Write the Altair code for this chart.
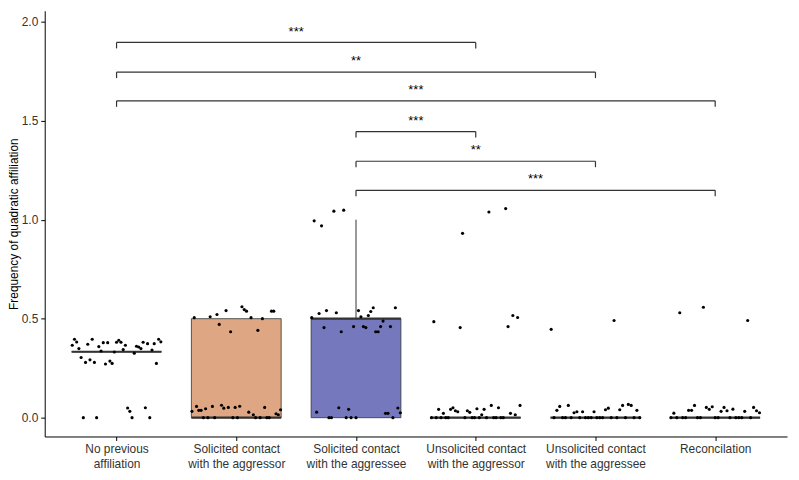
import altair as alt
import pandas as pd

# ---------------- data ----------------
categories = [
    "No previous affiliation",
    "Solicited contact with the aggressor",
    "Solicited contact with the aggressee",
    "Unsolicited contact with the aggressor",
    "Unsolicited contact with the aggressee",
    "Reconcilation",
]
label_lines = [
    ["No previous", "affiliation"],
    ["Solicited contact", "with the aggressor"],
    ["Solicited contact", "with the aggressee"],
    ["Unsolicited contact", "with the aggressor"],
    ["Unsolicited contact", "with the aggressee"],
    ["Reconcilation"],
]

# observed (jittered) values, listed left to right inside each group
g1 = [0.366, 0.396, 0.382, 0.349, 0.304, 0.0, 0.279, 0.371, 0.292, 0.396, 0.279, 0.0,
      0.359, 0.337, 0.379, 0.271, 0.379, 0.286, 0.274, 0.332, 0.381, 0.391, 0.381, 0.344,
      0.366, 0.049, 0.032, 0.0, 0.326, 0.361, 0.357, 0.349, 0.381, 0.05, 0.374, 0.0,
      0.342, 0.374, 0.274, 0.396, 0.383]
g2 = [0.032, 0.505, 0.057, 0.037, 0.037, 0.0, 0.045, 0.0, 0.51, 0.057, 0.0, 0.521,
      0.471, 0.063, 0.048, 0.541, 0.052, 0.434, 0.0, 0.052, 0.0, 0.058, 0.56, 0.546,
      0.538, 0.028, 0.505, 0.015, 0.0, 0.441, 0.0, 0.5, 0.052, 0.0, 0.0, 0.538, 0.538,
      0.02, 0.015, 0.04]
g3 = [0.505, 0.994, 0.028, 0.526, 0.969, 0.455, 0.541, 0.0, 0.0, 1.043, 0.53, 0.05,
      0.434, 1.048, 0.0, 0.042, 0.0, 0.46, 0.0, 0.541, 0.51, 0.46, 0.455, 0.516, 0.536,
      0.555, 0.434, 0.434, 0.46, 0.488, 0.022, 0.022, 0.46, 0.0, 0.555, 0.049, 0.025]
g4 = [0.0, 0.485, 0.0, 0.042, 0.0, 0.022, 0.0, 0.0, 0.042, 0.05, 0.035, 0.03, 0.455,
      0.931, 0.0, 0.035, 0.027, 0.0, 0.0, 0.045, 0.0, 0.015, 0.042, 0.0, 1.039, 0.062,
      0.0, 0.0, 0.05, 0.0, 0.0, 1.056, 0.46, 0.022, 0.516, 0.015, 0.506, 0.062]
g5 = [0.446, 0.0, 0.037, 0.057, 0.0, 0.0, 0.062, 0.0, 0.025, 0.03, 0.0, 0.03, 0.0, 0.0,
      0.0, 0.03, 0.0, 0.0, 0.0, 0.04, 0.048, 0.0, 0.491, 0.0, 0.04, 0.062, 0.0, 0.067,
      0.062, 0.0, 0.037, 0.0]
g6 = [0.0, 0.023, 0.0, 0.53, 0.0, 0.0, 0.037, 0.037, 0.062, 0.0, 0.0, 0.558, 0.052,
      0.042, 0.055, 0.0, 0.0, 0.032, 0.052, 0.035, 0.0, 0.043, 0.0, 0.0, 0.0, 0.032,
      0.491, 0.0, 0.052, 0.035, 0.025]
groups = [g1, g2, g3, g4, g5, g6]

# box-plot summaries
box_lower = [0.333, 0.0, 0.0, 0.0, 0.0, 0.0]
box_q1 = [0.333, 0.0, 0.0, 0.0, 0.0, 0.0]
box_median = [0.333, 0.0, 0.5, 0.0, 0.0, 0.0]
box_q3 = [0.333, 0.5, 0.5, 0.0, 0.0, 0.0]
box_upper = [0.333, 0.5, 1.0, 0.0, 0.0, 0.0]
box_fill = ["#FFFFFF", "#DEA683", "#7678BD", "#FFFFFF", "#FFFFFF", "#FFFFFF"]

# significance brackets
br_from = [1, 1, 1, 3, 3, 3]
br_to = [4, 5, 6, 4, 5, 6]
br_level = [1.895, 1.745, 1.6, 1.445, 1.295, 1.148]
br_label = ["***", "**", "***", "***", "**", "***"]

# ---------------- tables ----------------
HALF = 0.375  # half box width in category units
JIT = 0.37

pts_rows = []
for i, vals in enumerate(groups, start=1):
    n = len(vals)
    for k, v in enumerate(vals):
        pts_rows.append({"xj": i - JIT + 2 * JIT * k / (n - 1), "v": v})
pts = pd.DataFrame(pts_rows)

box = pd.DataFrame({
    "i": list(range(1, 7)),
    "lo": box_lower, "q1": box_q1, "med": box_median, "q3": box_q3, "hi": box_upper,
    "fill": box_fill,
})
box["xl"] = box["i"] - HALF
box["xr"] = box["i"] + HALF

br = pd.DataFrame({"a": br_from, "b": br_to, "y": br_level, "lab": br_label})
br["mid"] = (br["a"] + br["b"]) / 2
br["ytick"] = br["y"] - 0.03
br["ylab"] = br["y"] + 0.055

# ---------------- scales / axes ----------------
FONT = "Liberation Sans"
xsc = alt.Scale(domain=[0.4, 6.6], nice=False, zero=False)
ysc = alt.Scale(domain=[-0.095, 2.055], nice=False, zero=False)

lab_js = "[" + ",".join("[" + ",".join("'" + s + "'" for s in ln) + "]" for ln in label_lines) + "]"
xax = alt.Axis(values=[1, 2, 3, 4, 5, 6], labelExpr=lab_js + "[datum.value-1]", title=None,
               grid=False, tickSize=4, labelPadding=3, labelLineHeight=15,
               labelFont=FONT, labelFontSize=12, labelColor="#333333",
               domainColor="#000000", tickColor="#000000", labelOverlap=False)
yax = alt.Axis(values=[0, 0.5, 1, 1.5, 2], format=".1f", title="Frequency of quadratic affiliation",
               grid=False, tickSize=4, labelPadding=3, labelFont=FONT, labelFontSize=12,
               labelColor="#333333", domainColor="#000000", tickColor="#000000",
               titleFont=FONT, titleFontSize=12, titleFontWeight="normal", titleColor="#000000",
               titlePadding=1)


def X(f):
    return alt.X(f, type="quantitative", scale=xsc, axis=xax)


def Y(f):
    return alt.Y(f, type="quantitative", scale=ysc, axis=yax)


boxes = alt.Chart(box).mark_rect(stroke="#333333", strokeWidth=0.8).encode(
    x=X("xl"), x2="xr", y=Y("q1"), y2="q3", fill=alt.Fill("fill:N", scale=None)
)
whisk_hi = alt.Chart(box).mark_rule(color="#333333", strokeWidth=1).encode(
    x=X("i"), y=Y("q3"), y2="hi"
)
whisk_lo = alt.Chart(box).mark_rule(color="#333333", strokeWidth=1).encode(
    x=X("i"), y=Y("lo"), y2="q1"
)
medians = alt.Chart(box).mark_rule(color="#333333", strokeWidth=2.2).encode(
    x=X("xl"), x2="xr", y=Y("med")
)
points = alt.Chart(pts).mark_circle(size=10, color="#000000", opacity=1).encode(
    x=X("xj"), y=Y("v")
)
br_h = alt.Chart(br).mark_rule(color="#333333", strokeWidth=1.2).encode(
    x=X("a"), x2="b", y=Y("y")
)
br_l = alt.Chart(br).mark_rule(color="#333333", strokeWidth=1.2).encode(
    x=X("a"), y=Y("y"), y2="ytick"
)
br_r = alt.Chart(br).mark_rule(color="#333333", strokeWidth=1.2).encode(
    x=X("b"), y=Y("y"), y2="ytick"
)
br_t = alt.Chart(br).mark_text(font=FONT, fontSize=13, color="#000000", baseline="middle").encode(
    x=X("mid"), y=Y("ylab"), text="lab:N"
)

chart = alt.layer(boxes, whisk_hi, whisk_lo, medians, points, br_h, br_l, br_r, br_t).properties(
    width=748, height=429,
    autosize=alt.AutoSizeParams(type="none"),
    padding={"left": 37, "top": 1, "right": 4, "bottom": 36},
    background="#FFFFFF",
).configure_view(stroke=None)

chart.save("out.html", embed_options={"renderer": "svg", "actions": False})
